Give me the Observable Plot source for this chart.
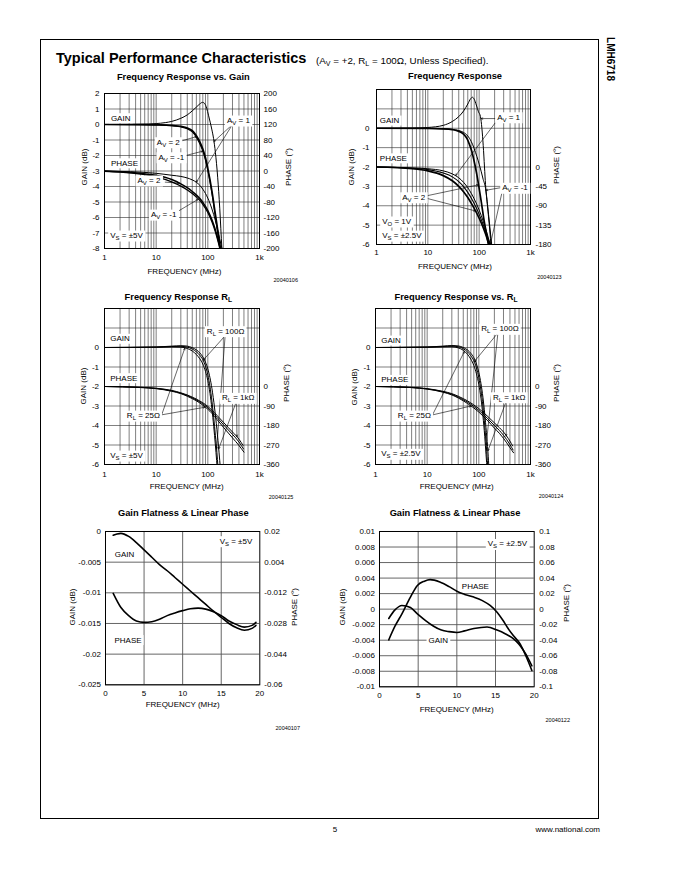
<!DOCTYPE html>
<html><head><meta charset="utf-8">
<script src="https://cdn.jsdelivr.net/npm/d3@7"></script>
<script src="https://cdn.jsdelivr.net/npm/@observablehq/plot@0.6"></script>
<style>
html,body{margin:0;padding:0;background:#fff;}
#page{position:relative;width:680px;height:880px;overflow:hidden;font-family:'Liberation Sans',Arial,Helvetica,sans-serif;color:#000;}
.t{position:absolute;line-height:1;white-space:nowrap;}
.t sub{font-size:0.72em;vertical-align:-0.25em;line-height:0;}
#box{position:absolute;left:40px;top:39px;width:559px;height:780px;border:1px solid #000;box-sizing:border-box;}
</style></head>
<body><div id="page"><div id="box"></div></div>
<script>
// ---------------- DATA ----------------
// shared axis ticks
const freqTicks = [1, 10, 100, 1000];
const freqTickLabels = ["1", "10", "100", "1k"];
const linTicks = [0, 5, 10, 15, 20];

// Chart 1: Frequency Response vs. Gain (Vs = ±5V)
const c1GainTicks = [2, 1, 0, -1, -2, -3, -4, -5, -6, -7, -8];
const c1PhaseTicks = [200, 160, 120, 80, 40, 0, -40, -80, -120, -160, -200];
const c1GainAv1 = [[1,0],[3,0.01],[5,0.02],[10,0.06],[15,0.12],[20,0.2],[30,0.4],[40,0.62],[50,0.88],[60,1.12],[70,1.33],[79,1.43],[87,1.35],[95,1.05],[103,0.6],[111,0.15],[120,-0.35],[129,-0.9],[140,-1.8],[155,-3.4],[170,-5.4],[187,-8],[195,-9]];
const c1GainAv2 = [[1,0],[5,-0.005],[10,-0.02],[20,-0.06],[30,-0.12],[40,-0.22],[50,-0.4],[60,-0.72],[70,-1.12],[80,-1.58],[90,-2.15],[100,-2.85],[120,-4.3],[140,-5.8],[160,-7.1],[175,-8],[185,-8.6]];
const c1GainAvm1 = [[1,0],[5,-0.01],[10,-0.03],[20,-0.08],[30,-0.15],[40,-0.28],[50,-0.48],[60,-0.82],[70,-1.25],[80,-1.72],[90,-2.3],[100,-2.98],[120,-4.45],[140,-5.95],[160,-7.3],[172,-8],[180,-8.6]];
const c1PhaseAv1 = [[1,0],[2,-1],[5,-3],[10,-6],[20,-11],[30,-14],[40,-18],[50,-23],[60,-29],[70,-37],[80,-47],[90,-58],[100,-70],[120,-98],[140,-128],[160,-160],[180,-190],[200,-215]];
const c1PhaseAv2 = [[1,0],[2,-2],[5,-6],[10,-11],[20,-22],[30,-33],[40,-43],[50,-53],[60,-62],[70,-71],[80,-81],[100,-102],[120,-126],[140,-152],[160,-180],[180,-208]];
const c1PhaseAvm1 = [[1,-1],[2,-3],[5,-8],[10,-15],[20,-28],[30,-39],[40,-49],[50,-58],[60,-67],[70,-76],[80,-86],[100,-107],[120,-131],[140,-157],[160,-185],[175,-207]];

// Chart 2: Frequency Response (Vo = 1V, Vs = ±2.5V)
const c2GainTicks = [0, -1, -2, -3, -4, -5, -6];
const c2PhaseTicks = [0, -45, -90, -135, -180];
const c2GainAv1 = [[1,0],[5,0.01],[10,0.04],[20,0.15],[30,0.35],[40,0.6],[50,0.9],[60,1.25],[68,1.52],[74,1.6],[80,1.5],[88,1.2],[97,0.85],[106,0.6],[113,0],[120,-0.9],[127,-2.0],[133,-2.9],[145,-3.9],[160,-5.0],[180,-6.3]];
const c2GainAv2 = [[1,0],[10,-0.01],[20,-0.03],[30,-0.07],[37,-0.12],[45,-0.22],[52,-0.36],[58,-0.54],[65,-0.85],[72,-1.2],[78,-1.58],[88,-2.25],[98,-2.96],[110,-3.8],[123,-4.67],[140,-5.5],[154,-6.1]];
const c2GainAvm1 = [[1,0],[10,-0.01],[20,-0.03],[30,-0.06],[40,-0.12],[50,-0.22],[60,-0.4],[70,-0.68],[80,-1.05],[90,-1.45],[100,-1.85],[110,-2.25],[120,-2.65],[133,-3.1],[145,-4.0],[160,-5.2],[172,-6.2]];
const c2PhaseAv1 = [[1,0],[5,-2],[10,-4],[20,-9],[30,-16],[40,-25],[50,-36],[60,-48],[70,-61],[80,-74],[100,-100],[120,-126],[140,-151],[160,-175],[175,-192]];
const c2PhaseAv2 = [[1,0],[5,-4],[10,-9],[20,-20],[30,-32],[40,-45],[50,-58],[60,-71],[70,-84],[80,-96],[100,-119],[120,-141],[140,-163],[155,-180],[170,-196]];
const c2PhaseAvm1 = [[1,0],[5,-3],[10,-6],[20,-14],[30,-23],[40,-34],[50,-46],[60,-59],[70,-72],[80,-85],[100,-110],[120,-134],[140,-157],[160,-178],[175,-195]];

// Chart 3: Frequency Response RL (Vs = ±5V)
const c3GainTicks = [0, -1, -2, -3, -4, -5, -6];
const c3PhaseTicks = [0, -90, -180, -270, -360];
const c3GainRl100 = [[1,0],[10,0.02],[20,0.05],[30,0.06],[40,0.02],[50,-0.08],[60,-0.22],[70,-0.4],[80,-0.62],[90,-0.95],[100,-1.4],[110,-2.0],[120,-2.75],[130,-3.6],[140,-4.5],[150,-5.4],[157,-6.1]];
const c3GainRl25 = [[1,0],[10,0.01],[20,0.03],[30,0.02],[40,-0.05],[50,-0.18],[60,-0.36],[70,-0.58],[80,-0.85],[90,-1.22],[100,-1.7],[110,-2.35],[120,-3.15],[130,-4.05],[140,-5.0],[148,-5.8],[152,-6.2]];
const c3GainRl1k = [[1,0],[10,0.03],[20,0.07],[30,0.09],[40,0.07],[50,-0.01],[60,-0.12],[70,-0.28],[80,-0.48],[90,-0.75],[100,-1.1],[110,-1.55],[120,-2.1],[135,-3.1],[150,-4.2],[165,-5.4],[175,-6.2]];
const c3PhaseRl100 = [[1,0],[5,-4],[10,-9],[20,-20],[30,-31],[40,-42],[50,-52],[60,-62],[70,-71],[80,-80],[100,-98],[120,-116],[150,-142],[200,-176],[250,-201],[300,-221],[400,-256],[490,-288]];
const c3PhaseRl25 = [[1,0],[5,-5],[10,-10],[20,-22],[30,-33],[40,-45],[50,-56],[60,-66],[70,-76],[80,-86],[100,-105],[120,-124],[150,-152],[200,-188],[250,-215],[300,-237],[400,-272],[500,-303]];
const c3PhaseRl1k = [[1,0],[5,-4],[10,-8],[20,-18],[30,-29],[40,-39],[50,-49],[60,-58],[70,-67],[80,-75],[100,-92],[120,-109],[150,-133],[200,-165],[250,-190],[300,-210],[400,-243],[480,-272]];

// Chart 4: Frequency Response vs. RL (Vs = ±2.5V)
const c4GainTicks = [0, -1, -2, -3, -4, -5, -6];
const c4PhaseTicks = [0, -90, -180, -270, -360];
const c4GainRl100 = [[1,0],[10,0.02],[20,0.05],[30,0.07],[40,0.04],[50,-0.06],[60,-0.22],[70,-0.42],[80,-0.68],[90,-1.05],[100,-1.55],[110,-2.2],[120,-3.0],[130,-4.0],[140,-5.1],[148,-6.0],[152,-6.3]];
const c4GainRl25 = [[1,0],[10,0.01],[20,0.03],[30,0.04],[40,-0.02],[50,-0.14],[60,-0.34],[70,-0.6],[80,-0.92],[90,-1.35],[100,-1.9],[110,-2.6],[120,-3.5],[130,-4.55],[138,-5.5],[145,-6.3]];
const c4GainRl1k = [[1,0],[10,0.03],[20,0.07],[30,0.1],[40,0.08],[50,0],[60,-0.12],[70,-0.3],[80,-0.52],[90,-0.85],[100,-1.28],[110,-1.85],[120,-2.55],[130,-3.4],[140,-4.35],[150,-5.35],[158,-6.3]];
const c4PhaseRl100 = [[1,0],[5,-5],[10,-11],[20,-24],[30,-36],[40,-49],[50,-61],[60,-72],[70,-82],[80,-92],[100,-110],[120,-127],[150,-149],[200,-180],[250,-203],[300,-225],[400,-268],[460,-293]];
const c4PhaseRl25 = [[1,0],[5,-5],[10,-12],[20,-26],[30,-39],[40,-53],[50,-66],[60,-78],[70,-89],[80,-99],[100,-118],[120,-136],[150,-159],[200,-192],[250,-216],[300,-239],[400,-282],[470,-306]];
const c4PhaseRl1k = [[1,0],[5,-4],[10,-10],[20,-22],[30,-33],[40,-45],[50,-56],[60,-66],[70,-76],[80,-85],[100,-102],[120,-118],[150,-139],[200,-168],[250,-190],[300,-210],[400,-252],[450,-274]];

// Chart 5: Gain Flatness & Linear Phase (Vs = ±5V)
const c5GainTicks = [0, -0.005, -0.01, -0.015, -0.02, -0.025];
const c5PhaseTicks = [0.02, 0.004, -0.012, -0.028, -0.044, -0.06];
const c5Gain = [[1,-0.0006],[1.5,-0.0004],[2,-0.0003],[3,-0.0008],[4,-0.0018],[5,-0.003],[6,-0.0042],[7,-0.0054],[8,-0.0064],[9,-0.0075],[10,-0.0086],[11,-0.0097],[12,-0.0108],[13,-0.0119],[14,-0.013],[15,-0.014],[16,-0.015],[17,-0.0157],[18,-0.0161],[19,-0.0158],[19.5,-0.0153]];
const c5Phase = [[1,-0.0123],[2,-0.0197],[3,-0.0239],[4,-0.0267],[5,-0.0274],[6,-0.0271],[7,-0.0258],[8,-0.0239],[9,-0.0225],[10,-0.0213],[11,-0.0203],[12,-0.02],[13,-0.0205],[14,-0.0219],[15,-0.0239],[16,-0.0267],[17,-0.0286],[18,-0.0299],[19,-0.029],[19.5,-0.0274]];

// Chart 6: Gain Flatness & Linear Phase (Vs = ±2.5V)
const c6GainTicks = [0.01, 0.008, 0.006, 0.004, 0.002, 0, -0.002, -0.004, -0.006, -0.008, -0.01];
const c6PhaseTicks = [0.1, 0.08, 0.06, 0.04, 0.02, 0, -0.02, -0.04, -0.06, -0.08, -0.1];
const c6Gain = [[1.2,-0.0012],[2,-0.0001],[2.9,0.00047],[4,0.0002],[4.9,-0.0006],[6,-0.0015],[7,-0.0022],[8,-0.0027],[9,-0.0029],[10,-0.003],[11,-0.0028],[12.2,-0.0025],[13.9,-0.0023],[15.2,-0.0027],[16.3,-0.0032],[17.3,-0.0038],[18,-0.0045],[18.6,-0.0053],[19.2,-0.0063],[19.7,-0.0073]];
const c6Phase = [[1.2,-0.0395],[2,-0.022],[2.9,-0.006],[4,0.0155],[4.9,0.0305],[5.8,0.036],[6.55,0.038],[7.8,0.035],[9,0.029],[10,0.023],[11,0.019],[12.2,0.0155],[13.3,0.011],[14.3,0.0047],[15.2,-0.004],[16,-0.015],[16.5,-0.023],[17.3,-0.034],[18.2,-0.045],[19,-0.062],[19.7,-0.079]];

// Annotations (label anchor = left edge, in data units of the gain axis)
const c1Labels = [
  {x:1.33,y:0.41,t:"GAIN"},{x:1.33,y:-2.5,t:"PHASE"},{x:234,y:0.26,t:"A{V} = 1"},
  {x:10.3,y:-1.14,t:"A{V} = 2"},{x:11.1,y:-2.11,t:"A{V} = -1"},
  {x:4.35,y:-3.61,t:"A{V} = 2"},{x:7.9,y:-5.81,t:"A{V} = -1"},{x:1.29,y:-7.16,t:"V{S} = ±5V"}];
const c1Arrows = [
  {x1:300,y1:0,x2:131,y2:-1.1},{x1:300,y1:0,x2:60,y2:-3.72},
  {x1:28,y1:-1.1,x2:61,y2:-0.78},{x1:33,y1:-2.05,x2:80,y2:-1.72},
  {x1:15,y1:-3.72,x2:28,y2:-3.78},{x1:25,y1:-5.65,x2:66,y2:-4.81}];
const c2Labels = [
  {x:1.16,y:0.4,t:"GAIN"},{x:1.16,y:-1.55,t:"PHASE"},{x:224,y:0.57,t:"A{V} = 1"},
  {x:281,y:-3.07,t:"A{V} = -1"},{x:3.17,y:-3.56,t:"A{V} = 2"},
  {x:1.29,y:-4.81,t:"V{O} = 1V"},{x:1.29,y:-5.54,t:"V{S} = ±2.5V"}];
const c2Arrows = [
  {x1:230,y1:0.5,x2:108,y2:0.5},{x1:230,y1:0.45,x2:34.6,y2:-2.45},
  {x1:290,y1:-3.05,x2:135,y2:-3.2},{x1:290,y1:-3.1,x2:165,y2:-6.0},
  {x1:9,y1:-3.5,x2:97,y2:-2.92},{x1:9,y1:-3.6,x2:85,y2:-4.27}];
const c3Labels = [
  {x:1.29,y:0.45,t:"GAIN"},{x:1.29,y:-1.57,t:"PHASE"},{x:95.7,y:0.84,t:"R{L} = 100Ω"},
  {x:2.71,y:-3.49,t:"R{L} = 25Ω"},{x:187,y:-2.58,t:"R{L} = 1kΩ"},{x:1.29,y:-5.54,t:"V{S} = ±5V"}];
const c3Arrows = [
  {x1:216,y1:0.6,x2:82,y2:-0.64},{x1:216,y1:0.6,x2:148,y2:-5.2},
  {x1:13,y1:-3.4,x2:36,y2:-0.02},{x1:13,y1:-3.45,x2:89,y2:-3.06},
  {x1:360,y1:-2.75,x2:162,y2:-5.2},{x1:360,y1:-2.75,x2:366,y2:-4.58}];
const c4Labels = [
  {x:1.29,y:0.36,t:"GAIN"},{x:1.29,y:-1.66,t:"PHASE"},{x:111,y:0.96,t:"R{L} = 100Ω"},
  {x:2.71,y:-3.49,t:"R{L} = 25Ω"},{x:187,y:-2.55,t:"R{L} = 1kΩ"},{x:1.29,y:-5.45,t:"V{S} = ±2.5V"}];
const c4Arrows = [
  {x1:234,y1:0.75,x2:82,y2:-0.72},{x1:234,y1:0.75,x2:139,y2:-5.0},
  {x1:13,y1:-3.4,x2:52.6,y2:-0.2},{x1:13,y1:-3.45,x2:71,y2:-3.0},
  {x1:339,y1:-2.75,x2:339,y2:-4.55},{x1:339,y1:-2.75,x2:150,y2:-5.3}];
const c5Labels = [{x:1.2,y:-0.0037,t:"GAIN"},{x:1.17,y:-0.0177,t:"PHASE"},{x:14.8,y:-0.00157,t:"V{S} = ±5V"}];
const c6Labels = [{x:10.65,y:0.00296,t:"PHASE"},{x:6.34,y:-0.00404,t:"GAIN"},{x:14.0,y:0.0084,t:"V{S} = ±2.5V"}];

// ---------------- RENDER ----------------
const FONT = "'Liberation Sans', Arial, Helvetica, sans-serif";
const page = document.getElementById("page");
const SVGNS = "http://www.w3.org/2000/svg";

function txt(html, x, y, o = {}) {
  const d = document.createElement("div");
  d.className = "t";
  d.innerHTML = html;
  const ax = o.anchor === "start" ? "0%" : o.anchor === "end" ? "-100%" : "-50%";
  d.style.left = x + "px";
  d.style.top = y + "px";
  d.style.fontSize = (o.size || 8) + "px";
  d.style.fontWeight = o.bold ? "bold" : "normal";
  d.style.transform = `translate(${ax},-50%)` + (o.rot ? ` rotate(${o.rot}deg)` : "");
  page.appendChild(d);
}

function subscriptify(t) {
  const s = t.textContent;
  if (!s.includes("{")) return;
  const parts = s.split(/(\{[^}]*\})/).filter(p => p);
  t.textContent = "";
  let shifted = false;
  for (const p of parts) {
    const ts = document.createElementNS(SVGNS, "tspan");
    if (p.startsWith("{")) {
      ts.textContent = p.slice(1, -1);
      ts.setAttribute("font-size", "6");
      ts.setAttribute("dy", "2");
      shifted = true;
    } else {
      ts.textContent = p;
      if (shifted) { ts.setAttribute("dy", "-2"); shifted = false; }
    }
    t.appendChild(ts);
  }
}

const logGrid = d3.range(1, 10).concat(d3.range(10, 100, 10), d3.range(100, 1001, 100));

function chart(c) {
  const mL = 45, mR = 45, mT = 12, mB = 25;
  const fw = c.R - c.L, fh = c.B - c.T;
  const width = fw + mL + mR, height = fh + mT + mB;
  const rightMap = new Map(c.rightTicks.map(p => [c.toY(p), p]));
  const fmtRight = g => String(+(+rightMap.get(g)).toFixed(4));
  const marks = [
    Plot.ruleX(c.gridX, {stroke: c.gridColor, strokeWidth: c.gridWidth}),
    Plot.ruleY(c.gridY, {stroke: c.gridColor, strokeWidth: c.gridWidth}),
    ...c.series.map(s => Plot.line(s.data, {
      x: d => d[0], y: d => s.phase ? c.toY(d[1]) : d[1],
      stroke: "black", strokeWidth: s.w, curve: "monotone-x", clip: true})),
    Plot.frame({stroke: "black", strokeWidth: 1}),
    Plot.arrow(c.arrows || [], {x1: "x1", y1: "y1", x2: "x2", y2: "y2", stroke: "black", strokeWidth: 0.6, headLength: 5, headAngle: 40}),
    Plot.text(c.labels, {x: "x", y: "y", text: "t", textAnchor: "start", fontSize: 8, fill: "black", ariaLabel: "note"}),
    Plot.axisX({anchor: "bottom", ticks: c.xTicks, tickFormat: c.xFmt, tickSize: 0, tickPadding: c.padX, label: null}),
    Plot.axisY({anchor: "left", ticks: c.leftTicks, tickFormat: d => String(d), tickSize: 0, tickPadding: c.padL, label: null}),
    Plot.axisY({anchor: "right", ticks: [...rightMap.keys()], tickFormat: fmtRight, tickSize: 0, tickPadding: c.padR, label: null})
  ];
  const svg = Plot.plot({
    width, height, marginLeft: mL, marginRight: mR, marginTop: mT, marginBottom: mB,
    x: {type: c.xType, domain: c.xDomain},
    y: {type: "linear", domain: c.yDomain},
    style: `font-family:${FONT};font-size:8px;background:transparent;overflow:visible;color:#000;`,
    marks
  });
  svg.style.position = "absolute";
  svg.style.left = (c.L - mL) + "px";
  svg.style.top = (c.T - mT) + "px";
  svg.style.maxWidth = "none";
  page.appendChild(svg);
  let texts = svg.querySelectorAll('g[aria-label="note"] text');
  if (!texts.length) texts = svg.querySelectorAll('g[aria-label="text"] text');
  texts.forEach(t => {
    subscriptify(t);
    const bb = t.getBBox();
    const r = document.createElementNS(SVGNS, "rect");
    r.setAttribute("x", bb.x - 2);
    r.setAttribute("y", bb.y - 0.5);
    r.setAttribute("width", bb.width + 4);
    r.setAttribute("height", bb.height + 1);
    r.setAttribute("fill", "white");
    r.setAttribute("stroke", "none");
    const tr = t.getAttribute("transform");
    if (tr) r.setAttribute("transform", tr);
    t.parentNode.insertBefore(r, t);
  });
}

const logX = {xType: "log", xDomain: [1, 1000], xTicks: freqTicks, xFmt: d => freqTickLabels[freqTicks.indexOf(d)], gridX: logGrid, gridColor: "#2a2a2a", gridWidth: 0.6};
const linX = {xType: "linear", xDomain: [0, 20], xTicks: linTicks, xFmt: d => String(d), gridX: [5, 10, 15], gridColor: "#555", gridWidth: 0.9};

chart({...logX, L: 104.3, R: 259.3, T: 93, B: 248, yDomain: [-8, 2],
  gridY: d3.range(-7, 2), leftTicks: c1GainTicks, rightTicks: c1PhaseTicks, toY: p => (p - 120) / 40,
  padL: 5, padR: 4, padX: 6,
  series: [
    {data: c1GainAv1, w: 1.0}, {data: c1GainAvm1, w: 1.1}, {data: c1GainAv2, w: 1.7},
    {data: c1PhaseAv1, w: 1.0, phase: true}, {data: c1PhaseAvm1, w: 1.3, phase: true}, {data: c1PhaseAv2, w: 1.5, phase: true}],
  labels: c1Labels, arrows: c1Arrows});

chart({...logX, L: 376, R: 530, T: 89, B: 244, yDomain: [-6, 2],
  gridY: d3.range(-5, 2), leftTicks: c2GainTicks, rightTicks: c2PhaseTicks, toY: p => -2 + p / 45,
  padL: 7, padR: 5, padX: 5,
  series: [
    {data: c2GainAv1, w: 1.0}, {data: c2GainAvm1, w: 1.0}, {data: c2GainAv2, w: 1.7},
    {data: c2PhaseAv1, w: 1.0, phase: true}, {data: c2PhaseAvm1, w: 1.1, phase: true}, {data: c2PhaseAv2, w: 1.7, phase: true}],
  labels: c2Labels, arrows: c2Arrows});

chart({...logX, L: 104.3, R: 259.3, T: 308, B: 464, yDomain: [-6, 2],
  gridY: d3.range(-5, 2), leftTicks: c3GainTicks, rightTicks: c3PhaseTicks, toY: p => -2 + p / 90,
  padL: 5.5, padR: 4, padX: 7,
  series: [
    {data: c3GainRl25, w: 1.0}, {data: c3GainRl100, w: 1.0}, {data: c3GainRl1k, w: 1.0},
    {data: c3PhaseRl25, w: 1.0, phase: true}, {data: c3PhaseRl100, w: 1.0, phase: true}, {data: c3PhaseRl1k, w: 1.0, phase: true}],
  labels: c3Labels, arrows: c3Arrows});

chart({...logX, L: 374.5, R: 529.5, T: 308, B: 464, yDomain: [-6, 2],
  gridY: d3.range(-5, 2), leftTicks: c4GainTicks, rightTicks: c4PhaseTicks, toY: p => -2 + p / 90,
  padL: 5, padR: 4.5, padX: 7,
  series: [
    {data: c4GainRl25, w: 1.0}, {data: c4GainRl100, w: 1.0}, {data: c4GainRl1k, w: 1.0},
    {data: c4PhaseRl25, w: 1.0, phase: true}, {data: c4PhaseRl100, w: 1.0, phase: true}, {data: c4PhaseRl1k, w: 1.0, phase: true}],
  labels: c4Labels, arrows: c4Arrows});

chart({...linX, L: 105, R: 259.3, T: 530.7, B: 684, yDomain: [-0.025, 0],
  gridY: c5GainTicks, leftTicks: c5GainTicks, rightTicks: c5PhaseTicks, toY: p => (p - 0.02) / 3.2,
  padL: 4.5, padR: 4.5, padX: 6,
  series: [{data: c5Gain, w: 1.6}, {data: c5Phase, w: 1.6, phase: true}],
  labels: c5Labels, arrows: []});

chart({...linX, L: 379.3, R: 534, T: 531, B: 686.3, yDomain: [-0.01, 0.01],
  gridY: c6GainTicks, leftTicks: c6GainTicks, rightTicks: c6PhaseTicks, toY: p => p / 10,
  padL: 4.5, padR: 5, padX: 6,
  series: [{data: c6Gain, w: 1.6}, {data: c6Phase, w: 1.6, phase: true}],
  labels: c6Labels, arrows: []});

// ---------------- PAGE TEXT ----------------
txt("Typical Performance Characteristics", 56, 57.5, {size: 14.5, bold: true, anchor: "start"});
txt("(A<sub>V</sub> = +2, R<sub>L</sub> = 100Ω, Unless Specified).", 316, 60.5, {size: 9.8, anchor: "start"});
txt("LMH6718", 610, 59, {size: 10, bold: true, rot: 90});
txt("5", 335, 830, {size: 8});
txt("www.national.com", 600, 830, {size: 8, anchor: "end"});

const titles = [
  ["Frequency Response vs. Gain", 183.3, 78.3], ["Frequency Response", 455, 77.3],
  ["Frequency Response R<sub>L</sub>", 178.3, 297.7], ["Frequency Response vs. R<sub>L</sub>", 456, 298.3],
  ["Gain Flatness &amp; Linear Phase", 183.3, 514.3], ["Gain Flatness &amp; Linear Phase", 455, 514.3]];
titles.forEach(([s, x, y]) => txt(s, x, y, {size: 9.3, bold: true}));

const axisTitles = [
  [85, 166.7, 289.3, 166.7, 184.5, 271.7, 298, 280.7, "20040106"],
  [351.7, 166.7, 556.7, 165, 455, 266.7, 561.7, 278.3, "20040123"],
  [84, 385.7, 287.3, 383.3, 186.7, 486.7, 293.3, 498.3, "20040125"],
  [355, 386.7, 556.7, 383.3, 456.7, 486.7, 563.3, 496.7, "20040124"],
  [72.7, 606.7, 295, 606.7, 182.7, 705, 300, 729.3, "20040107"],
  [343.3, 606.7, 567.3, 603.3, 456.7, 710, 570, 720.7, "20040122"]];
axisTitles.forEach(([gx, gy, px, py, fx, fy, cx, cy, code]) => {
  txt("GAIN (dB)", gx, gy, {size: 8, rot: -90});
  txt("PHASE (°)", px, py, {size: 8, rot: -90});
  txt("FREQUENCY (MHz)", fx, fy, {size: 8});
  txt(code, cx, cy, {size: 5.5, anchor: "end"});
});
</script>
</body></html>
